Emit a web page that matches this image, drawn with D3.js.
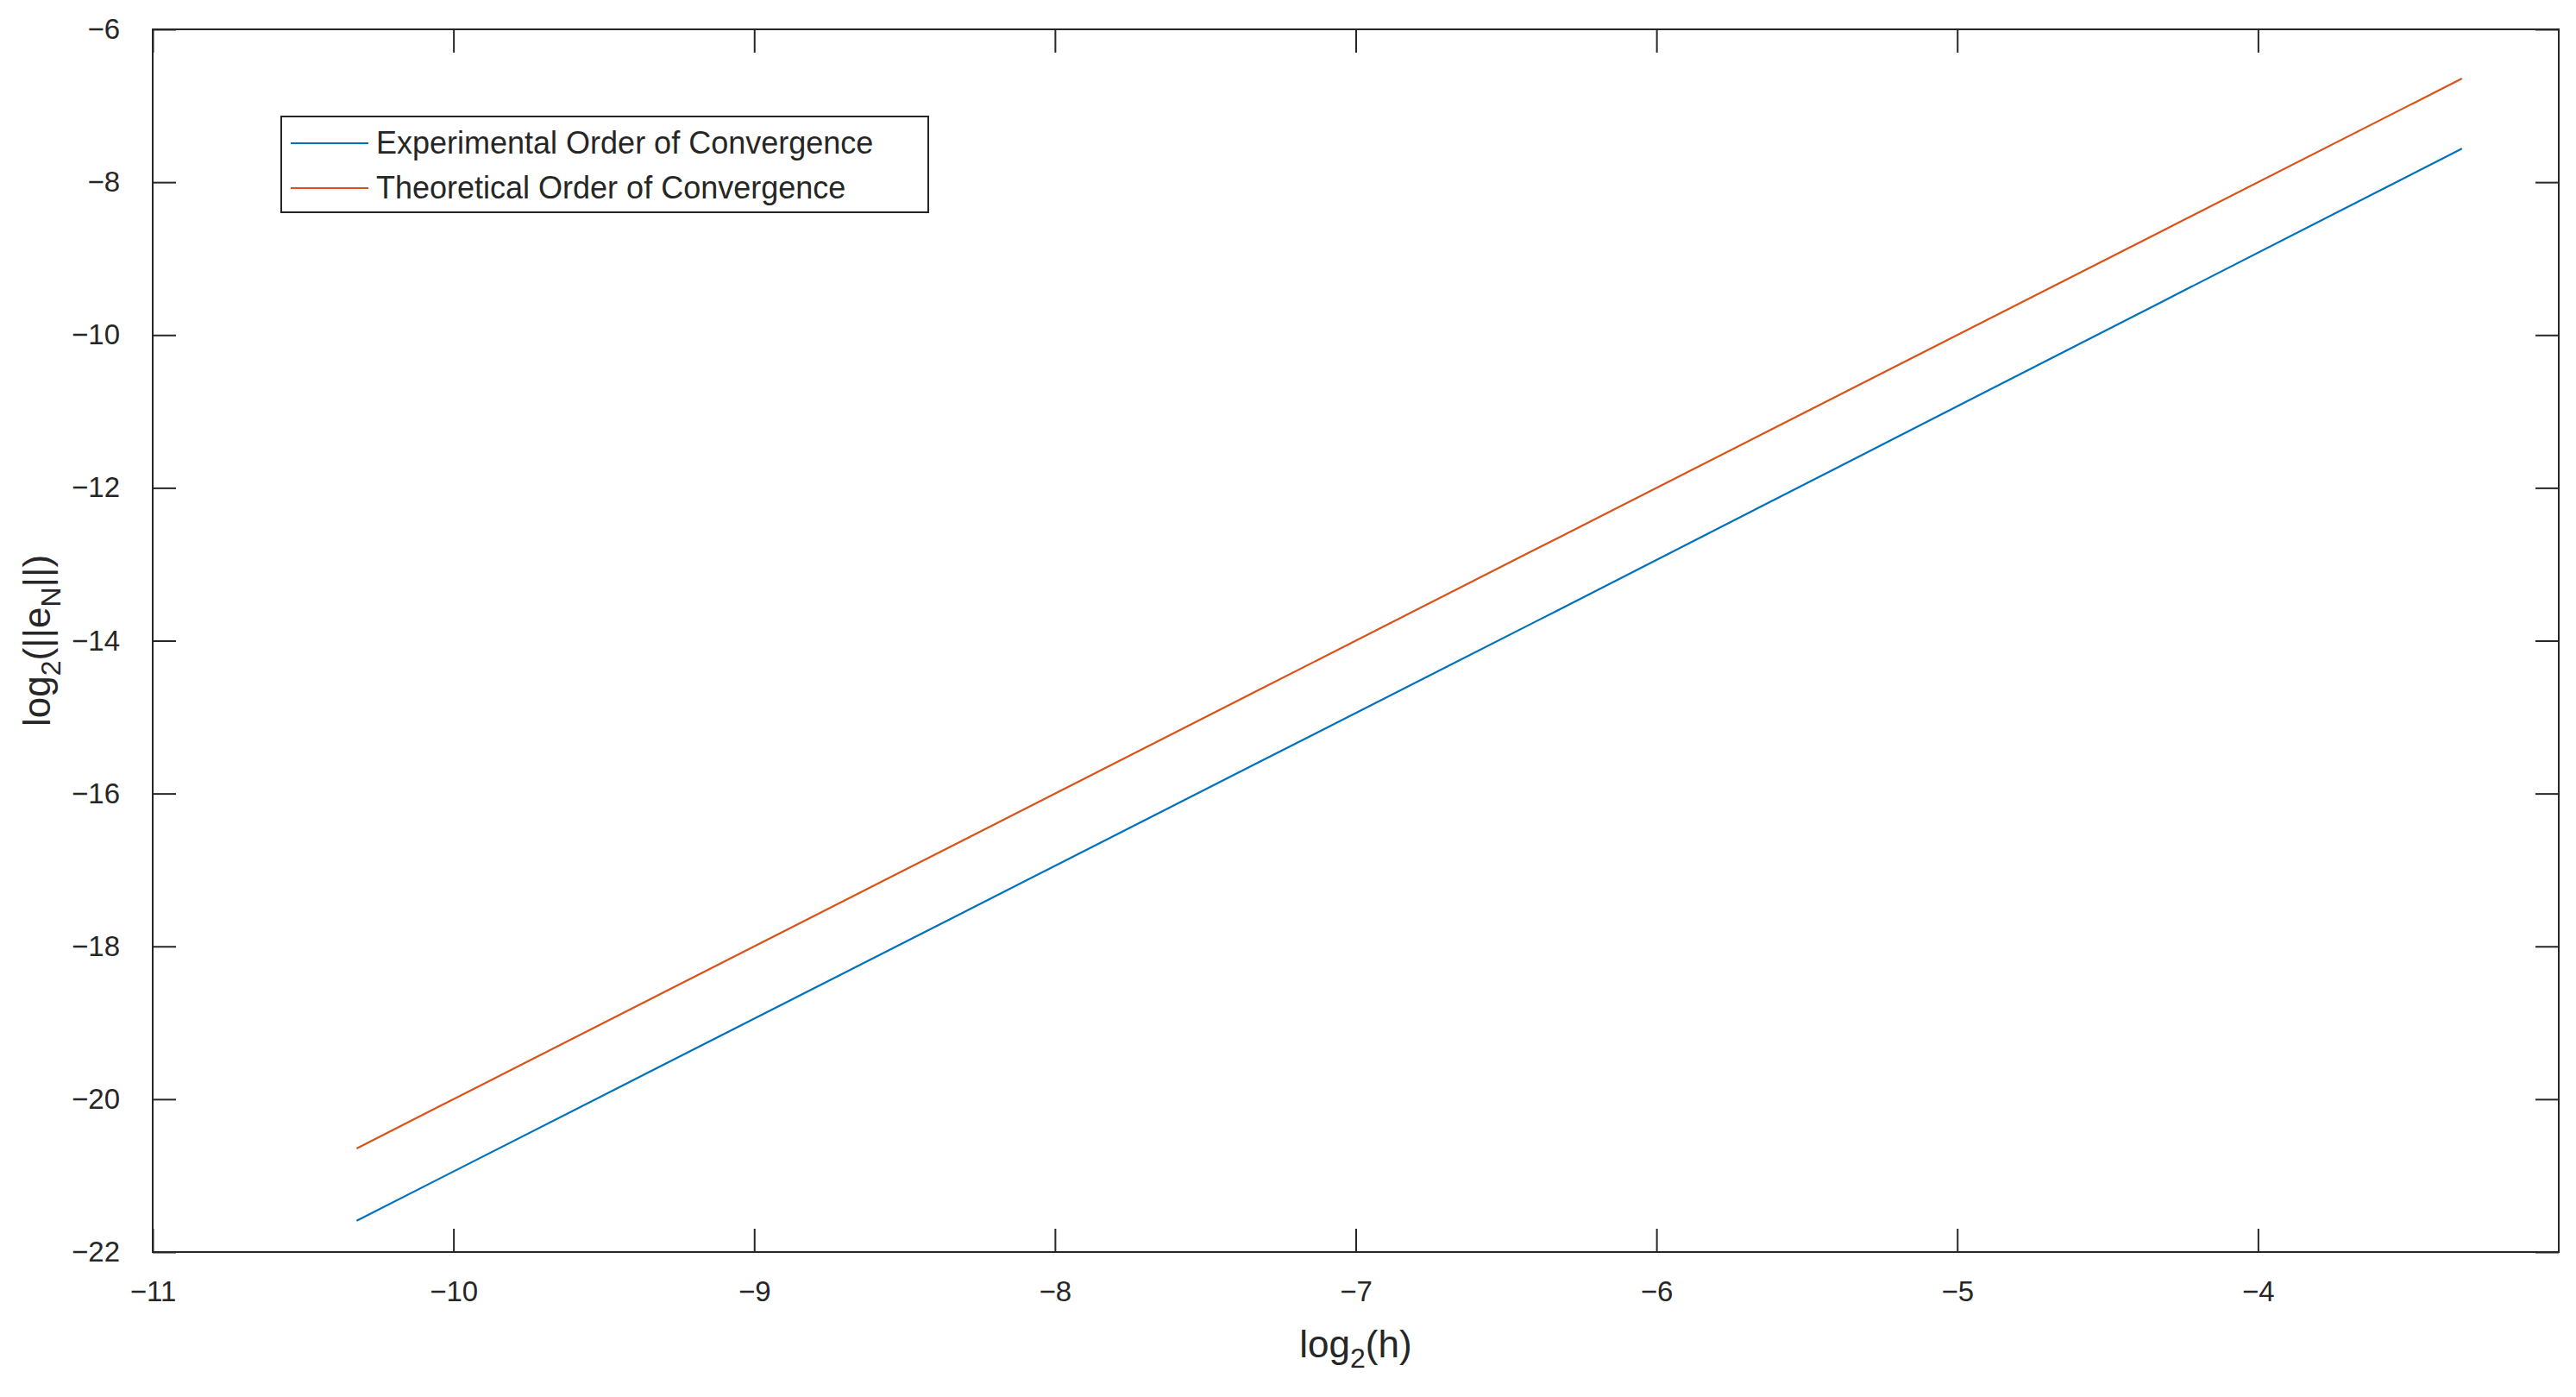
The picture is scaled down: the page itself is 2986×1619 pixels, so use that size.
<!DOCTYPE html>
<html>
<head>
<meta charset="utf-8">
<script src="https://cdn.jsdelivr.net/npm/d3@7"></script>
<style>
  body { margin: 0; background: #fff; }
  text { font-family: "Liberation Sans", Arial, sans-serif; fill: #262626; }
</style>
</head>
<body>
<div id="chart"></div>
<script>
// log2(h) for h = 0.1 / 2^k
const logH = [-3.3219, -4.3219, -5.3219, -6.3219, -7.3219, -8.3219, -9.3219, -10.3219];
const experimental = [-7.56, -9.57, -11.58, -13.59, -15.59, -17.59, -19.59, -21.59];
const theoretical = [-6.644, -8.644, -10.644, -12.644, -14.644, -16.644, -18.644, -20.644];
const xTicks = [-11, -10, -9, -8, -7, -6, -5, -4];
const yTicks = [-22, -20, -18, -16, -14, -12, -10, -8, -6];
const seriesNames = ['Experimental Order of Convergence', 'Theoretical Order of Convergence'];
const colors = ['#0072BD', '#D95319'];

const W = 2986, H = 1619;
const mLeft = 177, mRight = 2966, mTop = 34, mBottom = 1451;

const svg = d3.select('#chart').append('svg')
    .attr('width', W).attr('height', H);

const x = d3.scaleLinear().domain([-11, -3]).range([mLeft, mRight]);
const y = d3.scaleLinear().domain([-22, -6]).range([mBottom, mTop]);

// box
svg.append('rect')
    .attr('x', mLeft).attr('y', mTop)
    .attr('width', mRight - mLeft).attr('height', mBottom - mTop)
    .attr('fill', 'none').attr('stroke', '#262626').attr('stroke-width', 2);

const tickLen = 27;
const xAxis = svg.append('g').attr('transform', `translate(0,${mBottom})`)
    .call(d3.axisBottom(x).tickValues(xTicks).tickSizeInner(-tickLen).tickSizeOuter(0).tickPadding(34));
const xAxisTop = svg.append('g').attr('transform', `translate(0,${mTop})`)
    .call(d3.axisTop(x).tickValues(xTicks).tickSizeInner(-tickLen).tickSizeOuter(0).tickFormat(''));
const yAxis = svg.append('g').attr('transform', `translate(${mLeft},0)`)
    .call(d3.axisLeft(y).tickValues(yTicks).tickSizeInner(-tickLen).tickSizeOuter(0).tickPadding(38));
const yAxisRight = svg.append('g').attr('transform', `translate(${mRight},0)`)
    .call(d3.axisRight(y).tickValues(yTicks).tickSizeInner(-tickLen).tickSizeOuter(0).tickFormat(''));

[xAxis, xAxisTop, yAxis, yAxisRight].forEach(g => {
    g.select('.domain').remove();
    g.selectAll('.tick line').attr('stroke', '#262626').attr('stroke-width', 2);
    g.selectAll('.tick text').attr('font-size', 33).attr('fill', '#262626')
        .attr('font-family', '"Liberation Sans", Arial, sans-serif');
});

// lines
const line = d3.line().x(d => x(d[0])).y(d => y(d[1]));
[experimental, theoretical].forEach((vals, i) => {
    svg.append('path')
        .datum(logH.map((h, j) => [h, vals[j]]))
        .attr('d', line)
        .attr('fill', 'none')
        .attr('stroke', colors[i])
        .attr('stroke-width', 2.2);
});

// axis labels
const xl = svg.append('text').attr('x', (mLeft + mRight) / 2).attr('y', 1573)
    .attr('text-anchor', 'middle').attr('font-size', 44);
xl.append('tspan').text('log');
xl.append('tspan').attr('font-size', 32).attr('dy', 12).text('2');
xl.append('tspan').attr('dy', -12).text('(h)');

const yl = svg.append('text')
    .attr('transform', `translate(58,${(mTop + mBottom) / 2}) rotate(-90)`)
    .attr('text-anchor', 'middle').attr('font-size', 44);
yl.append('tspan').text('log');
yl.append('tspan').attr('font-size', 32).attr('dy', 12).text('2');
yl.append('tspan').attr('dy', -12).text('(||e');
yl.append('tspan').attr('font-size', 32).attr('dy', 12).text('N');
yl.append('tspan').attr('dy', -12).text('||)');

// legend
const lg = svg.append('g');
lg.append('rect').attr('x', 326).attr('y', 135).attr('width', 750).attr('height', 111)
    .attr('fill', '#fff').attr('stroke', '#262626').attr('stroke-width', 2);
seriesNames.forEach((name, i) => {
    const cy = 166 + i * 52;
    lg.append('line').attr('x1', 337).attr('x2', 427).attr('y1', cy).attr('y2', cy)
        .attr('stroke', colors[i]).attr('stroke-width', 2.2);
    lg.append('text').attr('x', 436).attr('y', cy + 12).attr('font-size', 36)
        .attr('fill', '#000').text(name);
});
</script>
</body>
</html>
